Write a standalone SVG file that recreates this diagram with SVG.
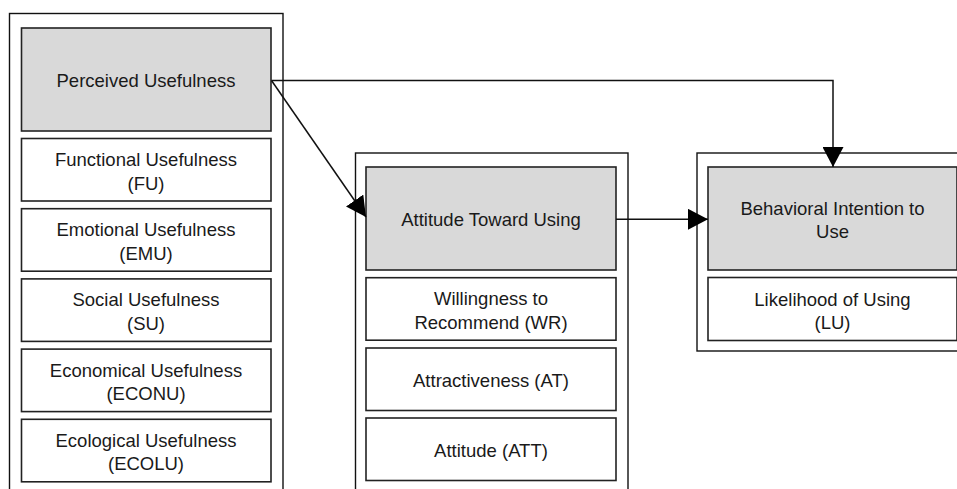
<svg xmlns="http://www.w3.org/2000/svg" width="957" height="489" viewBox="0 0 957 489">
<style>
.outer{fill:none;stroke:#111;stroke-width:1.4}
.head{fill:#d9d9d9;stroke:#222;stroke-width:1.6}
.item{fill:#fff;stroke:#222;stroke-width:1.6}
text{font-family:"Liberation Sans",Arial,sans-serif;font-size:18.5px;fill:#1a1a1a;text-anchor:middle}
.conn{fill:none;stroke:#111;stroke-width:1.5}
</style>
<defs>
<marker id="arr" viewBox="0 0 20 21" refX="20" refY="10.5" markerWidth="20" markerHeight="21" markerUnits="userSpaceOnUse" orient="auto">
<path d="M0,0 L20,10.5 L0,21 z" fill="#000"/>
</marker>
</defs>
<rect width="957" height="489" fill="#fff"/>

<g id="pu-group">
<rect class="outer" x="9.5" y="13.5" width="273.5" height="490"/>
<g id="pu"><rect class="head" x="21.5" y="28" width="249.5" height="103"/><text x="146" y="87">Perceived Usefulness</text></g>
<g id="fu"><rect class="item" x="21.5" y="138.5" width="249.5" height="62.5"/><text x="146" y="166">Functional Usefulness</text><text x="146" y="189.5">(FU)</text></g>
<g id="emu"><rect class="item" x="21.5" y="208.7" width="249.5" height="62.5"/><text x="146" y="236.2">Emotional Usefulness</text><text x="146" y="259.7">(EMU)</text></g>
<g id="su"><rect class="item" x="21.5" y="278.9" width="249.5" height="62.5"/><text x="146" y="306.4">Social Usefulness</text><text x="146" y="329.9">(SU)</text></g>
<g id="econu"><rect class="item" x="21.5" y="349.1" width="249.5" height="62.5"/><text x="146" y="376.6">Economical Usefulness</text><text x="146" y="400.1">(ECONU)</text></g>
<g id="ecolu"><rect class="item" x="21.5" y="419.3" width="249.5" height="62.5"/><text x="146" y="446.8">Ecological Usefulness</text><text x="146" y="470.3">(ECOLU)</text></g>
</g>

<g id="atu-group">
<rect class="outer" x="355.5" y="153" width="272.5" height="350"/>
<g id="atu"><rect class="head" x="366" y="167" width="250" height="103"/><text x="491" y="226">Attitude Toward Using</text></g>
<g id="wr"><rect class="item" x="366" y="277.7" width="250" height="62.5"/><text x="491" y="305.2">Willingness to</text><text x="491" y="328.7">Recommend (WR)</text></g>
<g id="at"><rect class="item" x="366" y="348" width="250" height="62.5"/><text x="491" y="386.5">Attractiveness (AT)</text></g>
<g id="att"><rect class="item" x="366" y="418" width="250" height="62.5"/><text x="491" y="456.5">Attitude (ATT)</text></g>
</g>

<g id="bi-group">
<rect class="outer" x="697" y="153" width="275" height="198"/>
<g id="bi"><rect class="head" x="708" y="167" width="249" height="103"/><text x="832.5" y="214.5">Behavioral Intention to</text><text x="832.5" y="238">Use</text></g>
<g id="lu"><rect class="item" x="708" y="277.5" width="249" height="63"/><text x="832.5" y="305.5">Likelihood of Using</text><text x="832.5" y="329">(LU)</text></g>
</g>

<g id="connectors">
<line class="conn" x1="271.5" y1="80.5" x2="366" y2="217" marker-end="url(#arr)"/>
<polyline class="conn" points="271.5,80.5 833,80.5 833,167" marker-end="url(#arr)"/>
<line class="conn" x1="616" y1="219.3" x2="708" y2="219.3" marker-end="url(#arr)"/>
</g>
</svg>
